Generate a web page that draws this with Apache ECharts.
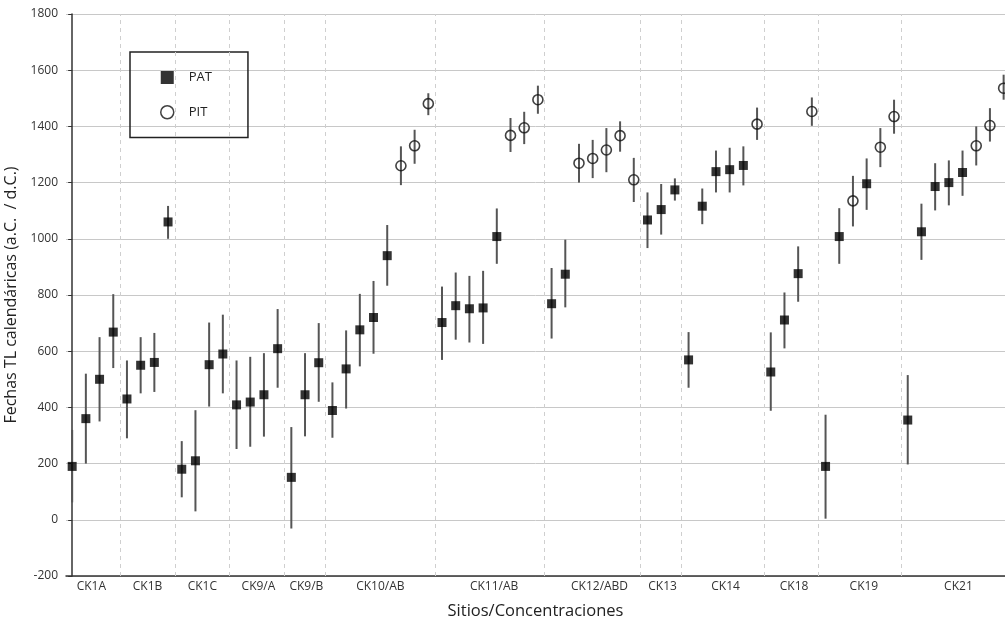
<!DOCTYPE html>
<html>
<head>
<meta charset="utf-8">
<script src="https://cdn.jsdelivr.net/npm/echarts@6/dist/echarts.min.js"></script>
<style>
html,body{margin:0;padding:0;background:#fff;}
#chart{width:1005px;height:623px;}
</style>
</head>
<body>
<div id="chart"></div>
<script>
// Site groups (x labels) and their label positions / separators (slot index units)
const siteNames = ['CK1A','CK1B','CK1C','CK9/A','CK9/B','CK10/AB','CK11/AB','CK12/ABD','CK13','CK14','CK18','CK19','CK21'];
const siteLabelPos = [1.4, 5.5, 9.5, 13.6, 17.1, 22.5, 30.8, 38.5, 43.1, 47.7, 52.7, 57.8, 64.7];
const siteSeparators = [3.5, 7.5, 11.5, 15.5, 18.5, 26.5, 34.5, 41.5, 44.5, 50.5, 54.5, 60.5];

// Y ticks
const yTicks = [-200, 0, 200, 400, 600, 800, 1000, 1200, 1400, 1600, 1800];

// PAT: slot, date, lower, upper
const patPos   = [0,1,2,3,4,5,6,7,8,9,10,11,12,13,14,15,16,17,18,19,20,21,22,23,27,28,29,30,31,35,36,42,43,44,45,46,47,48,49,51,52,53,55,56,58,61,62,63,64,65];
const patValue = [190,360,500,668,430,550,560,1060,180,210,552,590,409,419,445,609,151,445,559,389,537,676,720,940,702,762,751,754,1008,769,874,1067,1104,1174,569,1116,1239,1246,1261,526,711,876,190,1008,1196,355,1025,1186,1200,1236];
const patLow   = [62,200,350,540,290,450,455,1000,80,30,403,450,252,260,296,470,-31,297,420,292,396,546,591,833,569,641,631,626,911,645,756,967,1015,1136,470,1052,1165,1165,1190,388,610,776,4,911,1103,197,925,1101,1119,1153];
const patHigh  = [320,520,650,803,567,650,665,1117,280,390,702,730,567,580,593,750,330,593,700,489,674,804,850,1049,830,880,868,886,1108,896,997,1165,1195,1215,668,1179,1314,1324,1329,667,809,973,374,1109,1286,515,1125,1269,1279,1314];

// PIT: slot, date, lower, upper
const pitPos   = [24,25,26,32,33,34,37,38,39,40,41,50,54,57,59,60,66,67,68];
const pitValue = [1260,1331,1481,1368,1395,1495,1269,1286,1316,1367,1210,1408,1453,1135,1326,1435,1331,1403,1536];
const pitLow   = [1191,1267,1440,1309,1337,1445,1200,1216,1237,1310,1131,1352,1402,1044,1255,1374,1261,1346,1495];
const pitHigh  = [1329,1388,1518,1430,1452,1545,1338,1352,1394,1418,1288,1467,1503,1224,1394,1495,1400,1465,1584];

const FONT = '"Open Sans", "Noto Sans", sans-serif';

const errData = [];
patPos.forEach((p, i) => errData.push([p, patLow[i], patHigh[i]]));
pitPos.forEach((p, i) => errData.push([p, pitLow[i], pitHigh[i]]));

const chart = echarts.init(document.getElementById('chart'), null, {renderer: 'canvas'});
chart.setOption({
  animation: false,
  backgroundColor: '#fff',
  grid: {left: 66, right: 0, top: 14, bottom: 47, containLabel: false, outerBoundsMode: 'none'},
  legend: {
    left: 130, top: 52, orient: 'vertical',
    padding: [19, 36, 18, 30],
    itemGap: 21, itemWidth: 13, itemHeight: 13,
    borderColor: '#222', borderWidth: 1.5,
    textStyle: {fontFamily: FONT, fontSize: 13, color: '#222', padding: [0, 0, 0, 10]},
    data: [
      {name: 'PAT', icon: 'rect', itemStyle: {color: '#000', borderWidth: 0}},
      {name: 'PIT', icon: 'circle', itemStyle: {color: '#fff', borderColor: '#111', borderWidth: 1.5}}
    ]
  },
  xAxis: {
    type: 'value', min: -0.45, max: 68.1,
    name: 'Sitios/Concentraciones', nameLocation: 'middle', nameGap: 27,
    nameTextStyle: {fontFamily: FONT, fontSize: 16.5, color: '#222'},
    axisLine: {onZero: false, lineStyle: {color: '#333', width: 1.5}},
    axisTick: {show: false},
    splitLine: {show: false},
    axisLabel: {
      customValues: siteLabelPos, hideOverlap: false, margin: 5,
      fontFamily: FONT, fontSize: 12, color: '#333',
      formatter: v => {
        let k = 0, d = Infinity;
        siteLabelPos.forEach((p, i) => { if (Math.abs(p - v) < d) { d = Math.abs(p - v); k = i; } });
        return siteNames[k];
      }
    }
  },
  yAxis: {
    type: 'value', min: yTicks[0], max: yTicks[yTicks.length - 1], interval: 200,
    name: 'Fechas TL calendáricas (a.C.  / d.C.)', nameLocation: 'middle', nameGap: 45,
    nameTextStyle: {fontFamily: FONT, fontSize: 16, color: '#222'},
    axisLine: {show: true, lineStyle: {color: '#333', width: 1.5}},
    axisTick: {show: true, length: 4, lineStyle: {color: '#333'}},
    splitLine: {show: true, lineStyle: {color: '#c8c8c8', width: 1}},
    axisLabel: {fontFamily: FONT, fontSize: 12, color: '#333', margin: 8, formatter: v => String(v)}
  },
  series: [
    {
      name: 'err', type: 'custom', silent: true,
      data: errData,
      encode: {x: 0, y: [1, 2]},
      renderItem: (params, api) => {
        const a = api.coord([api.value(0), api.value(1)]);
        const b = api.coord([api.value(0), api.value(2)]);
        return {type: 'line', shape: {x1: a[0], y1: a[1], x2: b[0], y2: b[1]},
                style: {stroke: '#555', lineWidth: 2}};
      },
      markLine: {
        silent: true, symbol: ['none', 'none'], label: {show: false},
        lineStyle: {color: '#cfcfcf', type: [4, 4], width: 1},
        data: siteSeparators.map(s => ({xAxis: s}))
      },
      z: 2
    },
    {
      name: 'PAT', type: 'scatter', symbol: 'rect', symbolSize: 9,
      itemStyle: {color: '#000'},
      data: patPos.map((p, i) => [p, patValue[i]]), z: 3
    },
    {
      name: 'PIT', type: 'scatter', symbol: 'circle', symbolSize: 10,
      itemStyle: {color: 'rgba(255,255,255,0)', borderColor: '#111', borderWidth: 1.6},
      data: pitPos.map((p, i) => [p, pitValue[i]]), z: 3
    }
  ]
});
</script>
</body>
</html>
